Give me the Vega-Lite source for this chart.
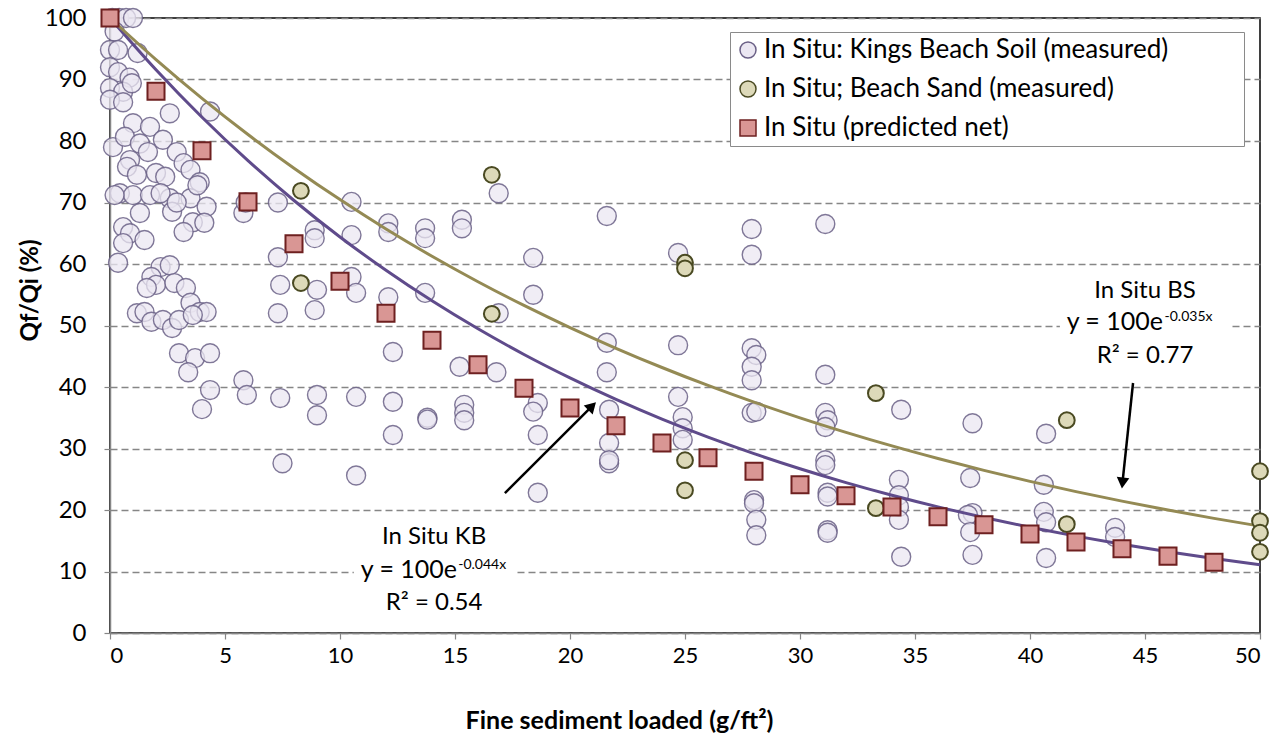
{
 "$schema": "https://vega.github.io/schema/vega-lite/v6.json",
 "width": 1150,
 "height": 615,
 "autosize": {"type": "none"},
 "padding": {"left": 110, "top": 18, "right": 18, "bottom": 107},
 "background": "white",
 "config": {
  "font": "Lato",
  "view": {"stroke": "#000000", "strokeWidth": 1.5},
  "axis": {"labelFont": "Lato", "labelFontSize": 22, "labelColor": "#000000", "titleFont": "Lato", "titleFontSize": 25, "titleFontWeight": "bold", "titleColor": "#000000", "domainColor": "#868686", "domainWidth": 1.5, "tickColor": "#868686", "tickWidth": 1.2, "tickSize": 6},
  "legend": {"orient": "none", "legendX": 620, "legendY": 14, "strokeColor": "#8a8a8a", "fillColor": "white", "padding": 5, "labelFont": "Lato", "labelFontSize": 26, "labelColor": "#000000", "symbolSize": 256, "symbolStrokeWidth": 1.5, "rowPadding": 13, "labelOffset": 3, "labelLimit": 800}
 },
 "encoding": {
  "x": {"field": "x", "type": "quantitative", "scale": {"domain": [0, 50], "nice": false, "zero": false},
   "axis": {"values": [0, 5, 10, 15, 20, 25, 30, 35, 40, 45, 50], "grid": false, "labelPadding": 6, "title": "Fine sediment loaded (g/ft²)", "titleX": 509, "titleY": 87, "titleAlign": "center", "titleBaseline": "middle"}},
  "y": {"field": "y", "type": "quantitative", "scale": {"domain": [0, 100], "nice": false},
   "axis": {"values": [0, 10, 20, 30, 40, 50, 60, 70, 80, 90, 100], "grid": true, "gridDash": [7, 4], "gridColor": "#868686", "gridWidth": 1.3, "labelPadding": 18, "labelFontSize": 24, "title": "Qf/Qi (%)", "titleFontSize": 24, "titleX": -80, "titleY": 272, "titleAlign": "center", "titleBaseline": "middle", "titleAngle": -90}}
 },
 "layer": [
  {
   "data": {"values": [{"x": 10.6, "x2": 17.6, "y": 8.6, "y2": 11.4}, {"x": 41.3, "x2": 48.7, "y": 48.6, "y2": 51.4}]},
   "mark": {"type": "rect", "fill": "white", "stroke": null},
   "encoding": {"x2": {"field": "x2"}, "y2": {"field": "y2"}}
  },
  {
   "data": {"values": [
    {"series":"KB","x":0.1,"y":100},{"series":"KB","x":0.4,"y":100},{"series":"KB","x":0.7,"y":100},{"series":"KB","x":1.0,"y":100},{"series":"KB","x":0.2,"y":97.8},
    {"series":"KB","x":0.0,"y":94.8},{"series":"KB","x":0.35,"y":94.8},{"series":"KB","x":1.2,"y":94.3},{"series":"KB","x":0.0,"y":92.0},{"series":"KB","x":0.35,"y":91.2},{"series":"KB","x":0.85,"y":90.3},
    {"series":"KB","x":0.0,"y":88.6},{"series":"KB","x":0.57,"y":88.0},{"series":"KB","x":0.95,"y":89.4},{"series":"KB","x":0.0,"y":86.7},{"series":"KB","x":0.57,"y":86.3},
    {"series":"KB","x":2.6,"y":84.5},{"series":"KB","x":4.35,"y":84.8},
    {"series":"KB","x":1.0,"y":82.9},{"series":"KB","x":1.74,"y":82.3},{"series":"KB","x":2.3,"y":80.2},{"series":"KB","x":0.13,"y":79.0},{"series":"KB","x":0.65,"y":80.7},{"series":"KB","x":1.3,"y":79.6},{"series":"KB","x":1.65,"y":78.2},{"series":"KB","x":2.9,"y":78.2},{"series":"KB","x":0.87,"y":76.9},{"series":"KB","x":0.74,"y":75.8},{"series":"KB","x":3.2,"y":76.4},{"series":"KB","x":3.5,"y":75.3},{"series":"KB","x":3.9,"y":73.3},{"series":"KB","x":2.0,"y":74.8},{"series":"KB","x":1.17,"y":74.5},{"series":"KB","x":2.4,"y":74.2},
    {"series":"KB","x":0.43,"y":71.5},{"series":"KB","x":1.0,"y":71.2},{"series":"KB","x":1.74,"y":71.2},{"series":"KB","x":2.6,"y":70.7},{"series":"KB","x":3.5,"y":70.7},{"series":"KB","x":0.2,"y":71.2},{"series":"KB","x":2.2,"y":71.5},{"series":"KB","x":3.8,"y":72.8},{"series":"KB","x":4.2,"y":69.3},{"series":"KB","x":1.3,"y":68.3},{"series":"KB","x":2.7,"y":68.5},{"series":"KB","x":3.6,"y":66.8},{"series":"KB","x":4.1,"y":66.7},{"series":"KB","x":3.2,"y":65.2},{"series":"KB","x":0.57,"y":66.0},{"series":"KB","x":0.87,"y":65.0},{"series":"KB","x":0.57,"y":63.4},{"series":"KB","x":1.5,"y":63.9},{"series":"KB","x":0.35,"y":60.2},{"series":"KB","x":2.9,"y":70.0},
    {"series":"KB","x":5.8,"y":68.3},{"series":"KB","x":5.9,"y":70.0},{"series":"KB","x":7.3,"y":70.0},{"series":"KB","x":7.3,"y":61.1},
    {"series":"KB","x":2.2,"y":59.5},{"series":"KB","x":2.6,"y":59.8},{"series":"KB","x":1.8,"y":57.9},{"series":"KB","x":2.0,"y":56.6},{"series":"KB","x":1.6,"y":56.1},{"series":"KB","x":2.8,"y":56.9},{"series":"KB","x":3.3,"y":56.1},{"series":"KB","x":3.5,"y":53.7},{"series":"KB","x":3.9,"y":52.2},{"series":"KB","x":4.2,"y":52.2},{"series":"KB","x":1.17,"y":52.0},{"series":"KB","x":1.5,"y":52.2},{"series":"KB","x":1.8,"y":50.6},{"series":"KB","x":2.3,"y":50.9},{"series":"KB","x":2.7,"y":49.6},{"series":"KB","x":3.0,"y":50.9},{"series":"KB","x":3.6,"y":51.7},
    {"series":"KB","x":3.0,"y":45.5},{"series":"KB","x":3.7,"y":44.7},{"series":"KB","x":4.35,"y":45.5},{"series":"KB","x":3.4,"y":42.4},{"series":"KB","x":4.35,"y":39.5},{"series":"KB","x":4.0,"y":36.4},
    {"series":"KB","x":5.8,"y":41.1},{"series":"KB","x":5.95,"y":38.7},{"series":"KB","x":7.4,"y":38.2},{"series":"KB","x":7.4,"y":56.6},{"series":"KB","x":7.3,"y":52.0},{"series":"KB","x":7.5,"y":27.6},
    {"series":"KB","x":10.5,"y":70.1},{"series":"KB","x":8.9,"y":65.5},{"series":"KB","x":8.9,"y":64.2},{"series":"KB","x":10.5,"y":64.7},{"series":"KB","x":12.1,"y":66.6},{"series":"KB","x":12.1,"y":65.2},{"series":"KB","x":13.7,"y":65.8},{"series":"KB","x":13.7,"y":64.2},{"series":"KB","x":15.3,"y":67.2},{"series":"KB","x":15.3,"y":65.8},{"series":"KB","x":16.9,"y":71.5},
    {"series":"KB","x":9.0,"y":55.8},{"series":"KB","x":10.5,"y":57.9},{"series":"KB","x":10.7,"y":55.3},{"series":"KB","x":8.9,"y":52.5},{"series":"KB","x":12.1,"y":54.6},{"series":"KB","x":13.7,"y":55.3},{"series":"KB","x":16.9,"y":52.0},{"series":"KB","x":18.4,"y":61.0},{"series":"KB","x":18.4,"y":55.0},
    {"series":"KB","x":12.3,"y":45.7},{"series":"KB","x":15.2,"y":43.3},{"series":"KB","x":16.8,"y":42.4},{"series":"KB","x":9.0,"y":38.7},{"series":"KB","x":9.0,"y":35.4},{"series":"KB","x":10.7,"y":38.4},{"series":"KB","x":12.3,"y":37.6},{"series":"KB","x":12.3,"y":32.2},{"series":"KB","x":13.8,"y":35.0},{"series":"KB","x":13.8,"y":34.7},{"series":"KB","x":15.4,"y":37.1},{"series":"KB","x":15.4,"y":35.8},{"series":"KB","x":15.4,"y":34.6},{"series":"KB","x":18.6,"y":37.4},{"series":"KB","x":18.4,"y":36.0},{"series":"KB","x":18.6,"y":32.2},{"series":"KB","x":10.7,"y":25.6},{"series":"KB","x":18.6,"y":22.8},
    {"series":"KB","x":21.7,"y":27.6},{"series":"KB","x":28.0,"y":21.6},{"series":"KB","x":28.0,"y":21.1},{"series":"KB","x":28.1,"y":18.4},{"series":"KB","x":28.1,"y":15.9},
    {"series":"KB","x":21.6,"y":67.8},{"series":"KB","x":27.9,"y":65.7},{"series":"KB","x":31.1,"y":66.5},{"series":"KB","x":24.7,"y":61.8},{"series":"KB","x":27.9,"y":61.5},
    {"series":"KB","x":21.6,"y":47.2},{"series":"KB","x":24.7,"y":46.8},{"series":"KB","x":27.9,"y":46.3},{"series":"KB","x":28.1,"y":45.2},{"series":"KB","x":27.9,"y":43.3},{"series":"KB","x":27.9,"y":41.1},{"series":"KB","x":21.6,"y":42.4},{"series":"KB","x":31.1,"y":42.0},
    {"series":"KB","x":24.7,"y":38.4},{"series":"KB","x":21.7,"y":36.3},{"series":"KB","x":24.9,"y":35.1},{"series":"KB","x":24.9,"y":33.3},{"series":"KB","x":24.9,"y":31.4},{"series":"KB","x":27.9,"y":35.8},{"series":"KB","x":28.1,"y":36.0},{"series":"KB","x":31.1,"y":35.8},{"series":"KB","x":31.2,"y":34.6},{"series":"KB","x":31.1,"y":33.5},{"series":"KB","x":21.7,"y":30.9},{"series":"KB","x":21.7,"y":28.1},{"series":"KB","x":31.1,"y":28.1},{"series":"KB","x":31.1,"y":27.3},
    {"series":"KB","x":34.4,"y":36.3},{"series":"KB","x":37.5,"y":34.1},{"series":"KB","x":40.7,"y":32.4},
    {"series":"KB","x":31.2,"y":22.8},{"series":"KB","x":31.2,"y":22.2},{"series":"KB","x":31.2,"y":16.7},{"series":"KB","x":31.2,"y":16.3},{"series":"KB","x":34.3,"y":24.9},{"series":"KB","x":34.3,"y":22.4},{"series":"KB","x":34.3,"y":20.5},{"series":"KB","x":34.3,"y":18.4},{"series":"KB","x":34.4,"y":12.4},{"series":"KB","x":37.4,"y":25.2},{"series":"KB","x":37.5,"y":19.5},{"series":"KB","x":37.3,"y":19.2},{"series":"KB","x":37.4,"y":16.4},{"series":"KB","x":37.5,"y":12.7},{"series":"KB","x":40.6,"y":24.1},{"series":"KB","x":40.6,"y":19.7},{"series":"KB","x":40.7,"y":18.0},{"series":"KB","x":40.7,"y":12.2},{"series":"KB","x":43.7,"y":17.1},{"series":"KB","x":43.7,"y":15.6}
   ]},
   "mark": {"type": "point", "filled": false, "size": 360, "strokeWidth": 1.4, "fillOpacity": 0.75, "strokeOpacity": 0.85},
   "encoding": {
    "fill": {"field": "series", "type": "nominal", "scale": {"domain": ["KB", "BS", "P"], "range": ["#ebe7f2", "#ddd9b9", "#d99694"]}, "legend": {"title": null, "labelExpr": "datum.label == 'KB' ? 'In Situ: Kings Beach Soil (measured)\u2800\u00a0\u00a0\u2800\u2800' : datum.label == 'BS' ? 'In Situ; Beach Sand (measured)' : 'In Situ (predicted net)'"}},
    "stroke": {"field": "series", "type": "nominal", "scale": {"domain": ["KB", "BS", "P"], "range": ["#6a6086", "#4a4a22", "#6e2020"]}, "legend": {"title": null}},
    "shape": {"field": "series", "type": "nominal", "scale": {"domain": ["KB", "BS", "P"], "range": ["circle", "circle", "square"]}, "legend": {"title": null}}
   }
  },
  {
   "data": {"values": [
    {"x":0,"y":100},{"x":2,"y":91.58},{"x":4,"y":83.86},{"x":6,"y":76.8},{"x":8,"y":70.33},{"x":10,"y":64.4},{"x":12,"y":58.98},{"x":14,"y":54.01},{"x":16,"y":49.46},{"x":18,"y":45.29},{"x":20,"y":41.48},{"x":22,"y":37.98},{"x":24,"y":34.78},{"x":26,"y":31.85},{"x":28,"y":29.17},{"x":30,"y":26.71},{"x":32,"y":24.46},{"x":34,"y":22.4},{"x":36,"y":20.51},{"x":38,"y":18.79},{"x":40,"y":17.2},{"x":42,"y":15.75},{"x":44,"y":14.43},{"x":46,"y":13.21},{"x":48,"y":12.1},{"x":50,"y":11.08}
   ]},
   "mark": {"type": "line", "color": "#5f4b8b", "strokeWidth": 3, "interpolate": "monotone"}
  },
  {
   "data": {"values": [
    {"x":0,"y":100},{"x":2,"y":93.24},{"x":4,"y":86.94},{"x":6,"y":81.06},{"x":8,"y":75.58},{"x":10,"y":70.47},{"x":12,"y":65.7},{"x":14,"y":61.26},{"x":16,"y":57.12},{"x":18,"y":53.26},{"x":20,"y":49.66},{"x":22,"y":46.3},{"x":24,"y":43.17},{"x":26,"y":40.25},{"x":28,"y":37.53},{"x":30,"y":34.99},{"x":32,"y":32.63},{"x":34,"y":30.42},{"x":36,"y":28.37},{"x":38,"y":26.45},{"x":40,"y":24.66},{"x":42,"y":22.99},{"x":44,"y":21.44},{"x":46,"y":19.99},{"x":48,"y":18.64},{"x":50,"y":17.38}
   ]},
   "mark": {"type": "line", "color": "#948a54", "strokeWidth": 3, "interpolate": "monotone"}
  },
  {
   "data": {"values": [
    {"series":"BS","x":8.3,"y":71.9},{"series":"BS","x":8.3,"y":56.9},{"series":"BS","x":16.6,"y":74.5},{"series":"BS","x":16.6,"y":51.9},{"series":"BS","x":25.0,"y":60.2},{"series":"BS","x":25.0,"y":59.3},{"series":"BS","x":25.0,"y":28.1},{"series":"BS","x":25.0,"y":23.2},{"series":"BS","x":33.3,"y":39.0},{"series":"BS","x":33.3,"y":20.3},{"series":"BS","x":41.6,"y":34.6},{"series":"BS","x":41.6,"y":17.7},{"series":"BS","x":50,"y":26.3},{"series":"BS","x":50,"y":18.2},{"series":"BS","x":50,"y":16.3},{"series":"BS","x":50,"y":13.2}
   ]},
   "mark": {"type": "point", "filled": false, "size": 250, "strokeWidth": 2, "fillOpacity": 1},
   "encoding": {
    "fill": {"field": "series", "type": "nominal", "scale": {"domain": ["KB", "BS", "P"], "range": ["#ebe7f2", "#ddd9b9", "#d99694"]}, "legend": {"title": null}},
    "stroke": {"field": "series", "type": "nominal", "scale": {"domain": ["KB", "BS", "P"], "range": ["#6a6086", "#4a4a22", "#6e2020"]}, "legend": {"title": null}},
    "shape": {"field": "series", "type": "nominal", "scale": {"domain": ["KB", "BS", "P"], "range": ["circle", "circle", "square"]}, "legend": {"title": null}}
   }
  },
  {
   "data": {"values": [
    {"series":"P","x":0,"y":100},{"series":"P","x":2,"y":88.1},{"series":"P","x":4,"y":78.4},{"series":"P","x":6,"y":70.1},{"series":"P","x":8,"y":63.3},{"series":"P","x":10,"y":57.2},{"series":"P","x":12,"y":52.0},{"series":"P","x":14,"y":47.6},{"series":"P","x":16,"y":43.6},{"series":"P","x":18,"y":39.8},{"series":"P","x":20,"y":36.6},{"series":"P","x":22,"y":33.7},{"series":"P","x":24,"y":30.9},{"series":"P","x":26,"y":28.5},{"series":"P","x":28,"y":26.3},{"series":"P","x":30,"y":24.1},{"series":"P","x":32,"y":22.3},{"series":"P","x":34,"y":20.5},{"series":"P","x":36,"y":18.9},{"series":"P","x":38,"y":17.6},{"series":"P","x":40,"y":16.1},{"series":"P","x":42,"y":14.8},{"series":"P","x":44,"y":13.7},{"series":"P","x":46,"y":12.5},{"series":"P","x":48,"y":11.5}
   ]},
   "mark": {"type": "point", "filled": false, "size": 290, "strokeWidth": 2, "fillOpacity": 1},
   "encoding": {
    "fill": {"field": "series", "type": "nominal", "scale": {"domain": ["KB", "BS", "P"], "range": ["#ebe7f2", "#ddd9b9", "#d99694"]}, "legend": {"title": null}},
    "stroke": {"field": "series", "type": "nominal", "scale": {"domain": ["KB", "BS", "P"], "range": ["#6a6086", "#4a4a22", "#6e2020"]}, "legend": {"title": null}},
    "shape": {"field": "series", "type": "nominal", "scale": {"domain": ["KB", "BS", "P"], "range": ["circle", "circle", "square"]}, "legend": {"title": null}}
   }
  },
  {
   "data": {"values": [{"x": 17.17, "y": 22.76, "x2": 20.96, "y2": 36.9}, {"x": 44.48, "y": 40.65, "x2": 44.02, "y2": 24.4}]},
   "mark": {"type": "rule", "color": "#000000", "strokeWidth": 2.5},
   "encoding": {"x2": {"field": "x2"}, "y2": {"field": "y2"}}
  },
  {
   "data": {"values": [{"x": 20.96, "y": 36.9}]},
   "mark": {"type": "point", "shape": "triangle-up", "filled": true, "color": "#000000", "size": 160, "angle": 45, "opacity": 1}
  },
  {
   "data": {"values": [{"x": 44.02, "y": 24.4}]},
   "mark": {"type": "point", "shape": "triangle-up", "filled": true, "color": "#000000", "size": 160, "angle": 186, "opacity": 1}
  },
  {
   "data": {"values": [{"x": 45.0, "y": 54.5, "t": "In Situ BS"}, {"x": 45.0, "y": 43.9, "t": "R² = 0.77"}, {"x": 14.09, "y": 14.5, "t": "In Situ KB"}, {"x": 14.09, "y": 3.7, "t": "R² = 0.54"}]},
   "mark": {"type": "text", "align": "center", "baseline": "alphabetic", "fontSize": 24, "font": "Lato", "color": "#000000"},
   "encoding": {"text": {"field": "t"}}
  },
  {
   "data": {"values": [{"x": 45.78, "y": 49.3, "t": "y = 100e"}, {"x": 15.09, "y": 8.9, "t": "y = 100e"}]},
   "mark": {"type": "text", "align": "right", "baseline": "alphabetic", "fontSize": 25, "font": "Lato", "color": "#000000"},
   "encoding": {"text": {"field": "t"}}
  },
  {
   "data": {"values": [{"x": 45.85, "y": 50.8, "t": "-0.035x"}, {"x": 15.14, "y": 10.4, "t": "-0.044x"}]},
   "mark": {"type": "text", "align": "left", "baseline": "alphabetic", "fontSize": 14, "font": "Lato", "color": "#000000"},
   "encoding": {"text": {"field": "t"}}
  }
 ]
}
